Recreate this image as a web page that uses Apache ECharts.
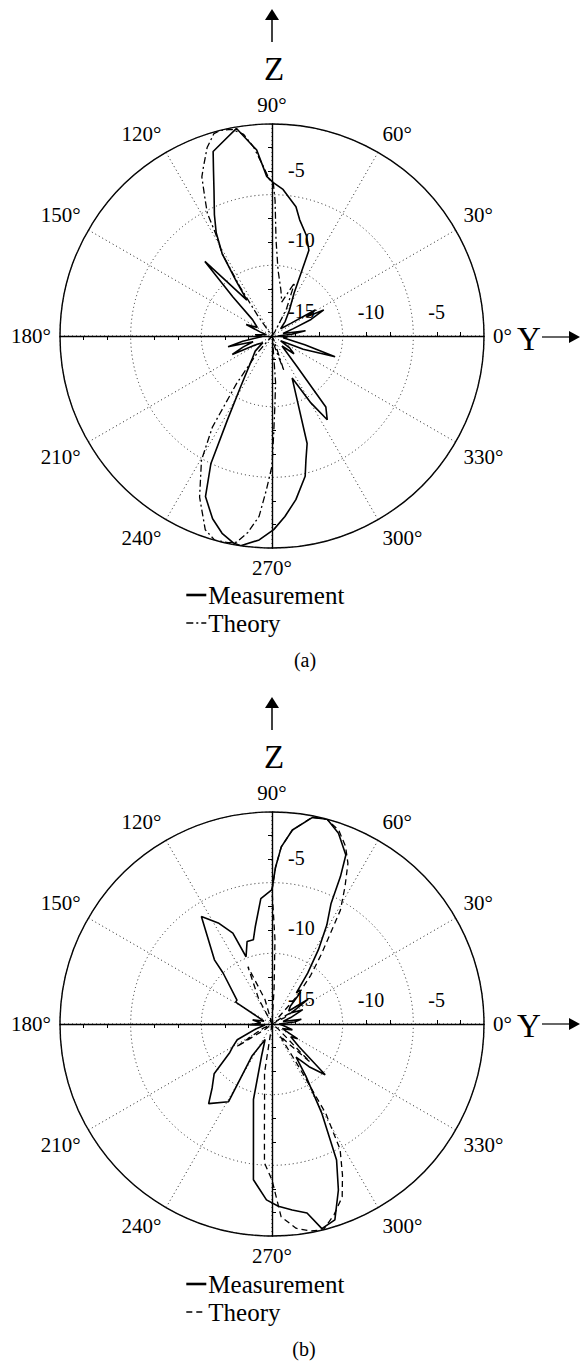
<!DOCTYPE html>
<html>
<head>
<meta charset="utf-8">
<script src="https://cdn.jsdelivr.net/npm/echarts@6/dist/echarts.min.js"></script>
<style>
  body { margin: 0; background: #fff; }
  #chart { width: 580px; height: 1362px; }
</style>
</head>
<body>
<div id="chart"></div>
<script>
// radial scale in dB: centre is -15, outer circle is 0
const dbMin = -15;
const dbMax = 0;

// (a) measurement
const measAAngle = [0, 5, 9, 13, 19, 23, 26.7, 29, 31, 34, 40, 48, 56, 62.7, 66.7, 71, 76.6, 79.5, 85.7, 89.5,
  91.9, 94.7, 99.7, 104, 107.7, 109.5, 111.7, 115.4, 118.4, 121.2, 123, 125, 129.9, 132, 135.1, 140, 150, 156, 161, 168,
  176, 183, 190, 193.8, 197, 201, 205, 209, 216, 222, 229.6, 238.2, 242, 244.4, 247.5, 252, 255.8, 259.5, 261.5, 266.4,
  270.5, 274.1, 278.3, 283.3, 285.3, 288.1, 295.6, 300, 303.4, 307.2, 309.5, 315, 321, 326, 331, 337, 341.8, 345, 351, 356, 360];
const measADb = [-14.6, -13.6, -12.6, -14.2, -13.4, -12.0, -10.9, -12.2, -11.4, -13.4, -14.2, -13.6, -12.8, -11.6, -8.4, -7.5, -6.55, -5.7, -4.6, -4.15,
  -3.7, -1.8, -0.1, -0.8, -1.3, -2.6, -3.9, -5.5, -6.7, -8.2, -10.3, -11.9, -9.9, -7.9, -11.1, -13.2, -13.8, -13.0, -14.1, -14.6,
  -13.8, -14.3, -12.9, -11.8, -13.6, -12.8, -11.9, -13.8, -14.2, -13.4, -12.8, -10.8, -8.3, -5.0, -2.7, -1.4, -0.6, -0.1, 0, -0.54,
  -1.3, -2.2, -3.3, -4.8, -5.9, -7.0, -11.7, -9.6, -7.9, -8.7, -12.3, -14.0, -13.0, -13.5, -14.3, -12.6, -10.3, -12.6, -14.2, -13.9, -14.6];

// (a) theory
const theoAAngle = [0, 40, 56, 62, 67, 74, 79, 84.8, 87.6, 88.7, 89.5, 91, 92.9, 95.6, 98, 101, 104, 106, 109, 112.1,
  113.8, 116.2, 117.8, 118.8, 121.2, 123, 125, 128, 225, 229, 233.3, 236.8, 240.4, 245.8, 251, 254.3, 258, 260.3, 263, 265.9,
  267.9, 270, 271, 272.5, 274.4, 277, 284, 289, 294, 300, 360];
const theoADb = [-15, -15, -14.6, -12.8, -10.9, -12.5, -11.7, -10.3, -8.2, -5.4, -4.2, -3.9, -3.0, -1.55, -0.6, -0.1, 0, -0.1, -0.9, -2.1,
  -2.7, -4.3, -5.2, -6.7, -8.2, -10.8, -13.2, -15, -15, -13.4, -10.8, -7.3, -4.9, -2.5, -0.5, 0, -0.05, -0.2, -1.0, -2.2,
  -4.1, -5.8, -8.1, -10.2, -11.7, -14.6, -14.6, -12.4, -14.6, -15, -15];

// (b) measurement
const measBAngle = [0, 5, 9, 13, 19, 25, 30, 34.4, 38, 44, 48, 50.5, 52, 55, 58, 61, 63.9, 65.1, 66.4, 70.8,
  74.9, 78.9, 84, 87, 88.7, 90, 95.1, 99.7, 102.5, 106.8, 111.1, 113.3, 118, 123.3, 131.9, 133.8, 145.7, 149, 153, 160,
  168, 175, 182, 188, 197, 204.4, 210, 214, 220.7, 226.9, 231.5, 240.8, 238, 246, 252, 256.2, 260.9, 263.2, 268.2, 272,
  276.2, 280.5, 283.7, 287.8, 291.8, 295.4, 299.2, 303, 306, 311, 316.4, 320, 326, 330, 336, 344, 352, 360];
const measBDb = [-14.5, -13.4, -12.9, -14.2, -13.6, -12.6, -13.4, -11.9, -13.5, -13.2, -12.0, -11.9, -12.2, -10.6, -8.8, -7.0, -5.5, -3.5, -1.95, -0.7,
  0, -0.1, -1.2, -2.45, -3.9, -5.5, -6.1, -8.0, -8.9, -8.9, -9.9, -8.0, -6.9, -5.9, -8.9, -10.0, -12.0, -12.0, -13.8, -14.4,
  -13.6, -14.2, -13.4, -14.5, -13.8, -12.3, -11.8, -11.4, -9.6, -8.8, -7.8, -8.7, -12.3, -13.8, -12.6, -9.5, -6.7, -3.9, -2.55, -2.1,
  -1.76, -1.4, -0.1, -0.45, -2.35, -4.35, -7.8, -10.6, -12.1, -11.0, -9.8, -12.5, -13.4, -12.9, -14.2, -13.5, -14.2, -14.5];

// (b) theory
const theoBAngle = [0, 20, 27, 31, 35, 44, 48, 51.5, 54.8, 59, 62, 64.7, 67.5, 71, 75, 79, 84, 87, 88.7, 90,
  88, 86.6, 88, 100, 106, 112.8, 118, 124, 200, 206, 212.8, 218, 225, 258, 261.3, 264.4, 265.9, 266.9, 270, 272.7,
  276.7, 280.5, 284, 288, 292.1, 295, 298.5, 301, 302, 304, 309, 315, 321, 328, 360];
const theoBDb = [-15, -15, -14.0, -13.2, -14.6, -14.6, -12.3, -10.6, -8.9, -5.6, -4.0, -2.43, -1.4, -0.5, 0, -0.1, -1.2, -2.45, -3.9, -5.5,
  -9.0, -12.5, -15, -15, -13.2, -10.6, -13.0, -15, -15, -14.2, -12.0, -14.4, -15, -15, -11.5, -9.6, -7.5, -5.15, -3.97, -1.35,
  -0.45, -0.1, 0, -0.8, -1.8, -3.2, -4.9, -7.6, -11.2, -14.0, -13.4, -11.2, -14.4, -15, -15];

const FONT = 'Liberation Serif, DejaVu Serif, serif';
const centers = [[272, 336], [272, 1024]];
const R = 212;
const dots = [1, 3];

function pairs(angles, dbs) {
  return angles.map((a, i) => [dbs[i], a]);
}

const polar = [];
const angleAxis = [];
const radiusAxis = [];
centers.forEach((c, p) => {
  [0, 90, 180, 270].forEach((start, k) => {
    const idx = p * 4 + k;
    polar.push({ center: c, radius: R });
    angleAxis.push({
      polarIndex: idx,
      type: 'value',
      min: 0,
      max: 360,
      interval: 30,
      startAngle: start,
      clockwise: false,
      show: k === 0,
      z: 1,
      axisLine: { show: true, lineStyle: { color: '#000', width: 1.4 } },
      axisTick: { show: false },
      axisLabel: {
        show: true, margin: 9, color: '#000', fontSize: 21, fontFamily: FONT,
        formatter: '{value}°'
      },
      splitLine: { show: true, lineStyle: { color: '#222', width: 1, type: dots } }
    });
    let label = { show: false };
    if (k === 0) {
      label = {
        show: true, showMinLabel: false, showMaxLabel: false, margin: 14,
        align: 'left', padding: [0, 0, 0, 15],
        color: '#000', fontSize: 20, fontFamily: FONT
      };
    } else if (k === 1) {
      label = {
        show: true, showMaxLabel: false, margin: -16,
        align: 'left', verticalAlign: 'bottom', padding: [0, 0, 15, 0],
        color: '#000', fontSize: 20, fontFamily: FONT
      };
    }
    radiusAxis.push({
      polarIndex: idx,
      type: 'value',
      min: dbMin,
      max: dbMax,
      interval: 5,
      z: 3,
      axisLine: { show: true, lineStyle: { color: '#000', width: 1.4 } },
      axisTick: { show: false },
      minorTick: { show: true, splitNumber: 3, length: 4, lineStyle: { color: '#000', width: 1 } },
      axisLabel: label,
      splitLine: { show: k === 0, lineStyle: { color: '#222', width: 1, type: dots } },
      minorSplitLine: { show: false }
    });
  });
});

function lineSeries(name, polarIndex, data, style) {
  return {
    name: name,
    type: 'line',
    coordinateSystem: 'polar',
    polarIndex: polarIndex,
    data: data,
    symbol: 'none',
    smooth: false,
    z: 4,
    itemStyle: { color: '#000' },
    lineStyle: Object.assign({ color: '#000' }, style),
    animation: false
  };
}

function legendFor(top, theoryType) {
  return {
    left: 180,
    top: top,
    orient: 'vertical',
    itemWidth: 20,
    itemHeight: 10,
    itemGap: 0,
    selectedMode: false,
    itemStyle: { opacity: 0 },
    textStyle: { color: '#000', fontSize: 25, lineHeight: 28, fontFamily: FONT, padding: [0, 0, 0, -3] },
    data: [
      { name: 'Measurement', lineStyle: { color: '#000', width: 2.6, type: 'solid' } },
      { name: 'Theory', lineStyle: { color: '#000', width: 1.4, type: theoryType } }
    ]
  };
}

function arrowUp(x, tip) {
  return [
    { type: 'line', shape: { x1: x, y1: tip + 33, x2: x, y2: tip + 9 }, style: { stroke: '#000', lineWidth: 1.5 } },
    { type: 'polygon', shape: { points: [[x, tip], [x - 7, tip + 11], [x + 7, tip + 11]] }, style: { fill: '#000' } }
  ];
}
function arrowRight(y) {
  return [
    { type: 'line', shape: { x1: 542, y1: y, x2: 571, y2: y }, style: { stroke: '#000', lineWidth: 1.2 } },
    { type: 'polygon', shape: { points: [[580, y], [569, y - 6], [569, y + 6]] }, style: { fill: '#000' } }
  ];
}
function label(text, x, y, size) {
  return {
    type: 'text',
    style: { text: text, x: x, y: y, fill: '#000', fontSize: size, fontFamily: FONT, align: 'center', verticalAlign: 'middle' }
  };
}

const graphic = [].concat(
  arrowUp(272, 9), label('Z', 274, 69, 33), arrowRight(337), label('Y', 529, 339, 33), label('(a)', 305, 660, 20),
  arrowUp(272, 697), label('Z', 274, 757, 33), arrowRight(1024), label('Y', 529, 1026, 33), label('(b)', 304, 1349, 20)
);

const chart = echarts.init(document.getElementById('chart'), null, { renderer: 'svg' });
chart.setOption({
  backgroundColor: '#fff',
  animation: false,
  textStyle: { fontFamily: FONT },
  polar: polar,
  angleAxis: angleAxis,
  radiusAxis: radiusAxis,
  legend: [legendFor(576, [7, 3, 2, 3]), legendFor(1265, [6, 4])],
  graphic: graphic,
  series: [
    lineSeries('Measurement', 0, pairs(measAAngle, measADb), { width: 1.6, type: 'solid' }),
    lineSeries('Theory', 0, pairs(theoAAngle, theoADb), { width: 1.3, type: [7, 3, 2, 3] }),
    lineSeries('Measurement', 4, pairs(measBAngle, measBDb), { width: 1.6, type: 'solid' }),
    lineSeries('Theory', 4, pairs(theoBAngle, theoBDb), { width: 1.3, type: [6, 4] })
  ]
});
</script>
</body>
</html>
